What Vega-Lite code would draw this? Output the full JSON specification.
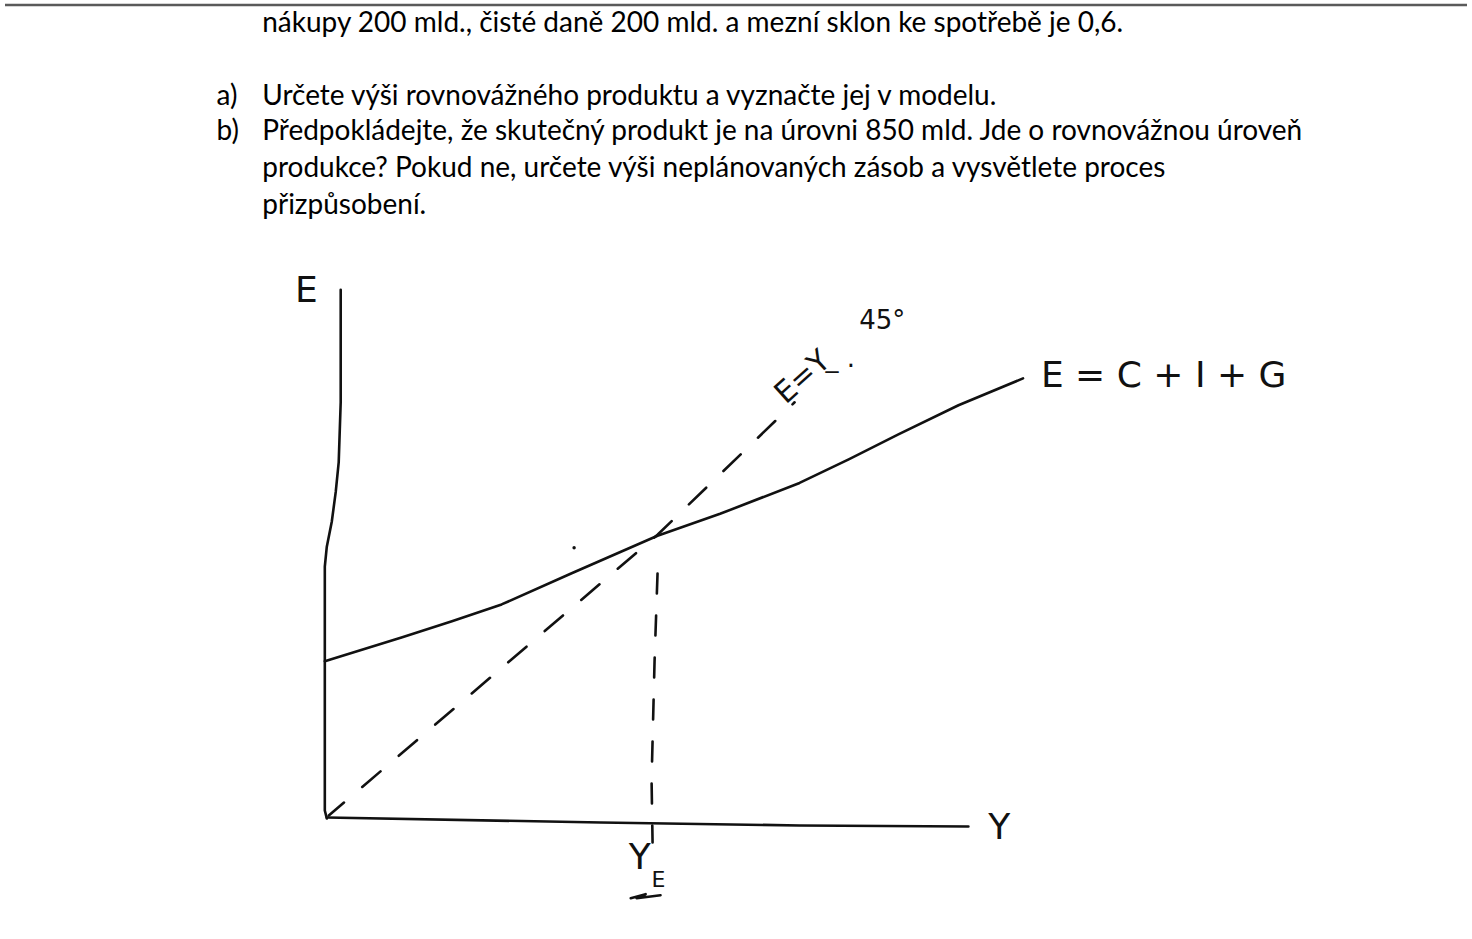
{
  "$schema": "https://vega.github.io/schema/vega-lite/v6.json",
  "width": 1472,
  "height": 939,
  "autosize": {"type": "fit", "contains": "padding"},
  "padding": 0,
  "background": "white",
  "config": {"view": {"stroke": null}},
  "datasets": {
    "paths": [
      {"id": "border", "seq": 0, "x": 0, "y": 1},
      {"id": "border", "seq": 1, "x": 1472, "y": 1},
      {"id": "axisE", "seq": 0, "x": 338, "y": 287},
      {"id": "axisE", "seq": 1, "x": 338, "y": 400},
      {"id": "axisE", "seq": 2, "x": 336, "y": 460},
      {"id": "axisE", "seq": 3, "x": 333, "y": 490},
      {"id": "axisE", "seq": 4, "x": 329, "y": 520},
      {"id": "axisE", "seq": 5, "x": 324, "y": 545},
      {"id": "axisE", "seq": 6, "x": 322, "y": 565},
      {"id": "axisE", "seq": 7, "x": 322, "y": 810},
      {"id": "axisE", "seq": 8, "x": 324, "y": 818},
      {"id": "axisY", "seq": 0, "x": 324, "y": 817},
      {"id": "axisY", "seq": 1, "x": 600, "y": 822},
      {"id": "axisY", "seq": 2, "x": 800, "y": 825},
      {"id": "axisY", "seq": 3, "x": 970, "y": 826},
      {"id": "agg", "seq": 0, "x": 322, "y": 660},
      {"id": "agg", "seq": 1, "x": 400, "y": 636},
      {"id": "agg", "seq": 2, "x": 450, "y": 620},
      {"id": "agg", "seq": 3, "x": 500, "y": 603},
      {"id": "agg", "seq": 4, "x": 570, "y": 572},
      {"id": "agg", "seq": 5, "x": 657, "y": 534},
      {"id": "agg", "seq": 6, "x": 720, "y": 512},
      {"id": "agg", "seq": 7, "x": 800, "y": 481},
      {"id": "agg", "seq": 8, "x": 850, "y": 457},
      {"id": "agg", "seq": 9, "x": 900, "y": 432},
      {"id": "agg", "seq": 10, "x": 960, "y": 403},
      {"id": "agg", "seq": 11, "x": 1025, "y": 376},
      {"id": "diag", "seq": 0, "x": 326, "y": 815},
      {"id": "diag", "seq": 1, "x": 657, "y": 533},
      {"id": "diag", "seq": 2, "x": 795, "y": 400},
      {"id": "vert", "seq": 0, "x": 657, "y": 572},
      {"id": "vert", "seq": 1, "x": 654, "y": 660},
      {"id": "vert", "seq": 2, "x": 651, "y": 780},
      {"id": "vert", "seq": 3, "x": 652, "y": 842},
      {"id": "ul", "seq": 0, "x": 630, "y": 898},
      {"id": "ul", "seq": 1, "x": 645, "y": 894},
      {"id": "ul", "seq": 2, "x": 636, "y": 898},
      {"id": "ul", "seq": 3, "x": 660, "y": 895}
    ],
    "texts": [
      {"role": "body", "x": 259, "y": 20, "t": "nákupy 200 mld., čisté daně 200 mld. a mezní sklon ke spotřebě je 0,6."},
      {"role": "body", "x": 213, "y": 93, "t": "a)"},
      {"role": "body", "x": 259, "y": 93, "t": "Určete výši rovnovážného produktu a vyznačte jej v modelu."},
      {"role": "body", "x": 213, "y": 129, "t": "b)"},
      {"role": "body", "x": 259, "y": 129, "t": "Předpokládejte, že skutečný produkt je na úrovni 850 mld. Jde o rovnovážnou úroveň"},
      {"role": "body", "x": 259, "y": 166, "t": "produkce? Pokud ne, určete výši neplánovaných zásob a vysvětlete proces"},
      {"role": "body", "x": 259, "y": 203, "t": "přizpůsobení."},
      {"role": "hand", "x": 292, "y": 288, "t": "E"},
      {"role": "hand", "x": 1043, "y": 374, "t": "E = C + I + G"},
      {"role": "hand", "x": 990, "y": 828, "t": "Y"},
      {"role": "hand", "x": 628, "y": 858, "t": "Y"},
      {"role": "sub", "x": 651, "y": 880, "t": "E"},
      {"role": "small", "x": 860, "y": 318, "t": "45°"},
      {"role": "rot", "x": 780, "y": 396, "t": "E=Y"},
      {"role": "small", "x": 826, "y": 357, "t": "_ ."}
    ],
    "dots": [
      {"x": 573, "y": 546}
    ]
  },
  "layer": [
    {
      "data": {"name": "paths"},
      "transform": [{"filter": "datum.id === 'border'"}],
      "mark": {"type": "line", "stroke": "#5a5a5a", "strokeWidth": 2.5},
      "encoding": {
        "x": {"field": "x", "type": "quantitative", "scale": {"domain": [0, 1472], "nice": false, "zero": false}, "axis": null},
        "y": {"field": "y", "type": "quantitative", "scale": {"domain": [0, 939], "nice": false, "zero": false, "reverse": true}, "axis": null},
        "order": {"field": "seq"}
      }
    },
    {
      "data": {"name": "paths"},
      "transform": [{"filter": "indexof(['axisE','axisY','agg','ul'], datum.id) >= 0"}],
      "mark": {"type": "line", "stroke": "#111111", "strokeWidth": 2.6, "strokeCap": "round", "strokeJoin": "round"},
      "encoding": {
        "x": {"field": "x", "type": "quantitative"},
        "y": {"field": "y", "type": "quantitative"},
        "detail": {"field": "id"},
        "order": {"field": "seq"}
      }
    },
    {
      "data": {"name": "paths"},
      "transform": [{"filter": "datum.id === 'diag'"}],
      "mark": {"type": "line", "stroke": "#111111", "strokeWidth": 2.6, "strokeDash": [24, 24], "strokeDashOffset": 4, "strokeCap": "round"},
      "encoding": {
        "x": {"field": "x", "type": "quantitative"},
        "y": {"field": "y", "type": "quantitative"},
        "order": {"field": "seq"}
      }
    },
    {
      "data": {"name": "paths"},
      "transform": [{"filter": "datum.id === 'vert'"}],
      "mark": {"type": "line", "stroke": "#111111", "strokeWidth": 2.6, "strokeDash": [20, 22], "strokeCap": "round"},
      "encoding": {
        "x": {"field": "x", "type": "quantitative"},
        "y": {"field": "y", "type": "quantitative"},
        "order": {"field": "seq"}
      }
    },
    {
      "data": {"name": "dots"},
      "mark": {"type": "point", "filled": true, "color": "#111111", "size": 12, "opacity": 1},
      "encoding": {
        "x": {"field": "x", "type": "quantitative"},
        "y": {"field": "y", "type": "quantitative"}
      }
    },
    {
      "data": {"name": "texts"},
      "transform": [{"filter": "datum.role === 'body'"}],
      "mark": {"type": "text", "align": "left", "baseline": "middle", "font": "Lato", "fontSize": 28, "color": "#000000"},
      "encoding": {
        "x": {"field": "x", "type": "quantitative"},
        "y": {"field": "y", "type": "quantitative"},
        "text": {"field": "t"}
      }
    },
    {
      "data": {"name": "texts"},
      "transform": [{"filter": "datum.role === 'hand'"}],
      "mark": {"type": "text", "align": "left", "baseline": "middle", "font": "DejaVu Sans", "fontSize": 36, "fontWeight": "normal", "color": "#111111"},
      "encoding": {
        "x": {"field": "x", "type": "quantitative"},
        "y": {"field": "y", "type": "quantitative"},
        "text": {"field": "t"}
      }
    },
    {
      "data": {"name": "texts"},
      "transform": [{"filter": "datum.role === 'sub'"}],
      "mark": {"type": "text", "align": "left", "baseline": "middle", "font": "DejaVu Sans", "fontSize": 22, "color": "#111111"},
      "encoding": {
        "x": {"field": "x", "type": "quantitative"},
        "y": {"field": "y", "type": "quantitative"},
        "text": {"field": "t"}
      }
    },
    {
      "data": {"name": "texts"},
      "transform": [{"filter": "datum.role === 'small'"}],
      "mark": {"type": "text", "align": "left", "baseline": "middle", "font": "DejaVu Sans", "fontSize": 26, "color": "#111111"},
      "encoding": {
        "x": {"field": "x", "type": "quantitative"},
        "y": {"field": "y", "type": "quantitative"},
        "text": {"field": "t"}
      }
    },
    {
      "data": {"name": "texts"},
      "transform": [{"filter": "datum.role === 'rot'"}],
      "mark": {"type": "text", "align": "left", "baseline": "middle", "font": "DejaVu Sans", "fontSize": 30, "angle": 318, "color": "#111111"},
      "encoding": {
        "x": {"field": "x", "type": "quantitative"},
        "y": {"field": "y", "type": "quantitative"},
        "text": {"field": "t"}
      }
    }
  ]
}
